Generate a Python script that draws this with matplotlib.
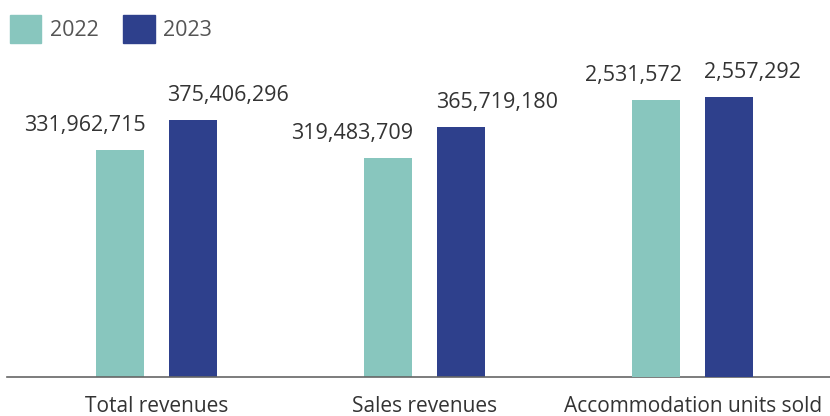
import matplotlib
matplotlib.use("Agg")
import matplotlib.pyplot as plt
from matplotlib.patches import Patch
import numpy as np

categories = ["Total revenues", "Sales revenues", "Accommodation units sold"]
years = ["2022", "2023"]
values_2022 = [331962715, 319483709, 2531572]
values_2023 = [375406296, 365719180, 2557292]
value_labels_2022 = ["331,962,715", "319,483,709", "2,531,572"]
value_labels_2023 = ["375,406,296", "365,719,180", "2,557,292"]

c22 = "#88C6BE"
c23 = "#2E408C"
txt = "#333333"
plt.rcParams['font.family'] = ['Open Sans', 'DejaVu Sans']

W, H = 830, 416
fig = plt.figure(figsize=(W/100, H/100), dpi=100)
ax_left, ax_right, ax_bottom, ax_top = 7, 830, 377, 0
ax = fig.add_axes([ax_left/W, (H-ax_bottom)/H, (ax_right-ax_left)/W, (ax_bottom-ax_top)/H])
ax2 = ax.twinx()

x = np.arange(len(categories))
bw = 0.179
off = 0.136
rev_idx = [0, 1]
acc_idx = [2]

for axis, idx in ((ax, rev_idx), (ax2, acc_idx)):
    xs = x[idx]
    v22 = [values_2022[i] for i in idx]
    v23 = [values_2023[i] for i in idx]
    b1 = axis.bar(xs - off, v22, bw, color=c22)
    b2 = axis.bar(xs + off, v23, bw, color=c23)
    for rect, i in zip(b1, idx):
        axis.annotate(value_labels_2022[i], (rect.get_x() + rect.get_width(), rect.get_height()),
                      xytext=(1, 10), textcoords="offset points", ha="right", va="bottom",
                      fontsize=15.5, color=txt)
    for rect, i in zip(b2, idx):
        axis.annotate(value_labels_2023[i], (rect.get_x(), rect.get_height()),
                      xytext=(-1, 10), textcoords="offset points", ha="left", va="bottom",
                      fontsize=15.5, color=txt)

ax.set_ylim(0, 550.7e6)
ax2.set_ylim(0, 3.443e6)
ax.set_xlim(-0.557, 2.511)

for a in (ax, ax2):
    for s in ("top", "right", "left"):
        a.spines[s].set_visible(False)
    a.set_yticks([])
ax2.spines["bottom"].set_visible(False)
ax.spines["bottom"].set_color("#666666")
ax.spines["bottom"].set_linewidth(1.2)
ax.set_xticks(x)
ax.set_xticklabels(categories, fontsize=15, color=txt)
ax.tick_params(axis="x", length=0, pad=14)
ax.patch.set_alpha(0)

handles = [Patch(color=c22), Patch(color=c23)]
fig.legend(handles, years, loc="upper left", bbox_to_anchor=(10/W, 1 - 15/H),
           ncol=2, frameon=False, fontsize=15.5, handlelength=1.45, handleheight=1.6,
           handletextpad=0.4, columnspacing=1.15, borderpad=0, borderaxespad=0,
           labelcolor="#555555")

fig.savefig("out.png", dpi=100)
